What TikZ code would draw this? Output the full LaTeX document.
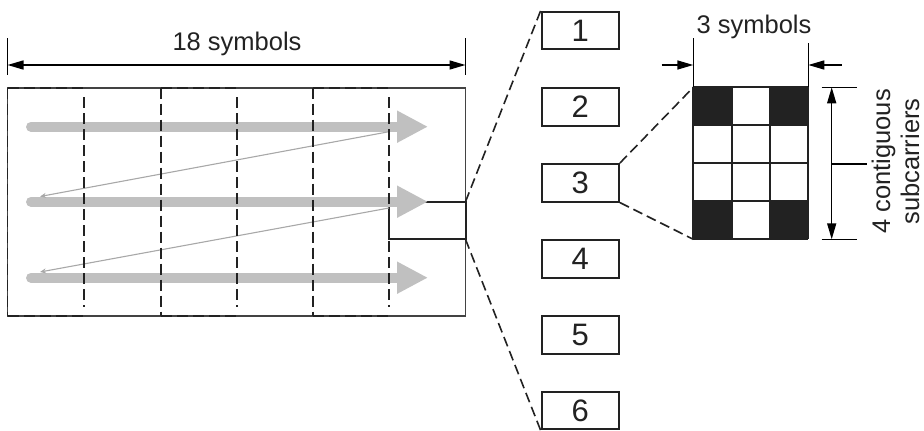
\documentclass[tikz,border=0pt]{standalone}
\usepackage{fontspec}
\setmainfont{Liberation Sans}
\usetikzlibrary{arrows.meta}
\definecolor{arrowgray}{HTML}{C0C0C0}
\definecolor{linegray}{HTML}{A8A8A8}
\definecolor{ink}{HTML}{222222}
\begin{document}
\begin{tikzpicture}[x=1pt,y=-1pt,
  lbl/.style={font=\fontsize{25.5}{30}\selectfont, text=ink, inner sep=0pt},
  numbox/.style={draw=ink, line width=2pt, minimum width=77.3pt, minimum height=37.6pt,
                 inner sep=0pt, font=\fontsize{31}{36}\selectfont, text=ink},
  frameline/.style={draw=ink, line width=1.8pt},
  dashv/.style={draw=ink, line width=1.8pt, dash pattern=on 11pt off 5pt},
  dim/.style={draw=black, line width=1.5pt},
  dimarrow/.style={dim, -{Triangle[length=16pt 0 0,width=9pt 0 0]}},
  dimboth/.style={dim, {Triangle[length=16pt 0 0,width=9pt 0 0]}-{Triangle[length=16pt 0 0,width=9pt 0 0]}},
  bigarrow/.style={draw=arrowgray, line width=10pt, line cap=round,
                   -{Triangle[length=31pt 0 0,width=30pt 0 0]}},
  thinline/.style={draw=linegray, line width=1.1pt, -{Stealth[length=6pt 0 0,width=5pt 0 0]}},
  conn/.style={draw=ink, line width=1.6pt, dash pattern=on 10pt off 5pt},
  gridline/.style={draw=ink, line width=1.8pt}
]
\useasboundingbox (0,0) rectangle (924,431);

% ---------- main frame ----------
\coordinate (fnw) at (7.5,87.7);
\coordinate (fse) at (465.5,316);
\draw[frameline, draw=ink!85] (fnw) rectangle (fse);
% dashed overlays on top/bottom edges
\foreach \a/\b in {7.5/84, 161/237, 313/389}{
  \draw[dashv] (\a,87.7) -- (\b,87.7);
  \draw[dashv] (\a,316) -- (\b,316);
}
\draw[dashv] (7.5,87.7) -- (7.5,316);

% small selected block
\coordinate (zt) at (465.5,201.7);
\coordinate (zb) at (465.5,239.3);
\draw[frameline, line width=2pt] (389,201.7) rectangle (zb);

% gray arrows
\foreach \y in {126.7,201.7,277.7}
  \draw[bigarrow] (31,\y) -- (428,\y);

% thin zigzag lines
\draw[thinline] (389,131.7) -- (40,196.5);
\draw[thinline] (389,208) -- (40,272);

% dashed vertical separators
\foreach \x in {84,237,389}
  \draw[dashv] (\x,97) -- (\x,307);
\foreach \x in {161,313}
  \draw[dashv] (\x,87.7) -- (\x,316);

% ---------- top dimension ----------
\coordinate (dl) at (7.5,65);
\coordinate (dr) at (465.5,65);
\draw[dim] (7.5,38) -- (7.5,75);
\draw[dim] (465.5,38) -- (465.5,75);
\draw[dimboth] (dl) -- (dr);
\node[lbl, anchor=base] (t18) at (237,50) {18 symbols};

% ---------- numbered boxes ----------
\node[numbox] (b1) at (580.3,30.5) {1};
\node[numbox] (b2) at (580.3,106.7) {2};
\node[numbox] (b3) at (580.3,182.8) {3};
\node[numbox] (b4) at (580.3,259) {4};
\node[numbox] (b5) at (580.3,335) {5};
\node[numbox] (b6) at (580.3,410.6) {6};

\draw[conn] (zt) -- (b1.north west);
\draw[conn] (zb) -- (b6.south west);

% ---------- grid ----------
\coordinate (gnw) at (693.3,87.3);
\coordinate (gsw) at (693.3,239.3);
\coordinate (gse) at (808.3,239.3);
\foreach \c/\r in {0/0, 2/0, 0/3, 2/3}
  \fill[ink] (693.3+\c*38.333,87.3+\r*38) rectangle ++(38.333,38);
\foreach \i in {0,...,3}
  \draw[gridline] (693.3+\i*38.333,87.3) -- (693.3+\i*38.333,239.3);
\foreach \j in {0,...,4}
  \draw[gridline] (693.3,87.3+\j*38) -- (808.3,87.3+\j*38);

\draw[conn] (b3.north east) -- (gnw);
\draw[conn] (b3.south east) -- (gsw);

% ---------- "3 symbols" dimension ----------
\draw[dim] (693.3,38) -- (693.3,87.3);
\draw[dim] (808.3,43) -- (808.3,87.3);
\coordinate (la) at (661.7,65);
\coordinate (lb) at (693.3,65);
\coordinate (ra) at (841.7,65);
\coordinate (rb) at (808.3,65);
\draw[dimarrow] (la) -- (lb);
\draw[dimarrow] (ra) -- (rb);
\node[lbl, anchor=base] (t3) at (754,33.5) {3 symbols};

% ---------- vertical dimension ----------
\draw[dim] (821.7,87.3) -- (856.7,87.3);
\draw[dim] (821.7,239.3) -- (856.7,239.3);
\coordinate (vt) at (831.7,87.3);
\coordinate (vb) at (831.7,239.3);
\draw[dimboth] (vt) -- (vb);
\coordinate (vm) at (831.7,164);
\coordinate (vme) at (866.7,164);
\draw[dim] (vm) -- (vme);
\node[lbl, rotate=90, align=center, font=\fontsize{25.5}{29}\selectfont] (t4) at (895.5,161.5)
  {4 contiguous\\subcarriers};
\end{tikzpicture}
\end{document}
